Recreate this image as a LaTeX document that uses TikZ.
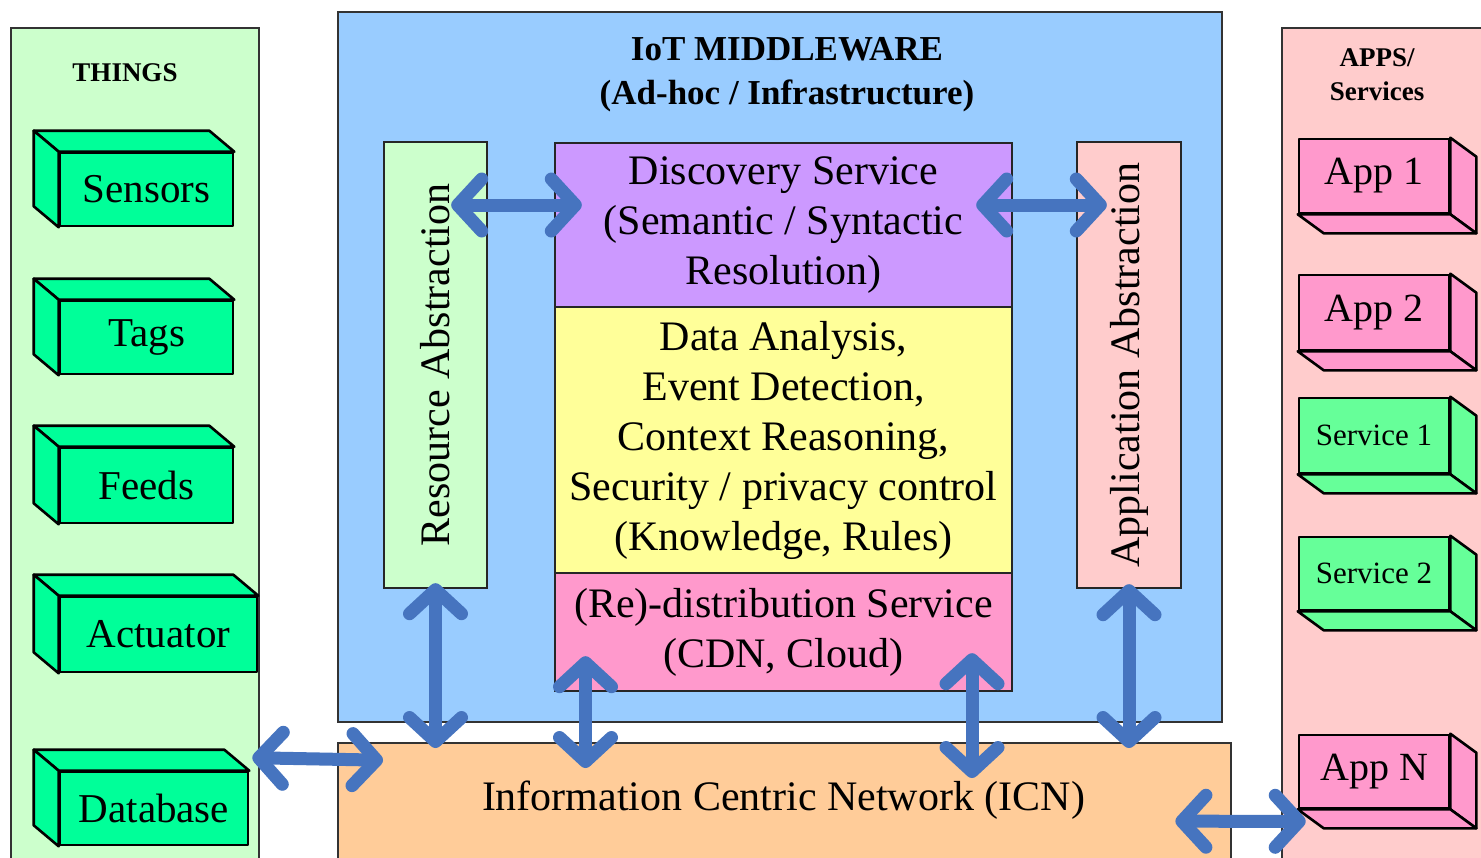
\documentclass[tikz,border=0pt]{standalone}
\usepackage{fontspec}
\setmainfont{LiberationSerif}[Extension=.ttf, UprightFont=*-Regular, BoldFont=*-Bold, ItalicFont=*-Italic, BoldItalicFont=*-BoldItalic]
\usetikzlibrary{arrows.meta,calc}
\definecolor{lightgreen}{HTML}{CCFFCC}
\definecolor{mwblue}{HTML}{99CCFF}
\definecolor{discpurple}{HTML}{CC99FF}
\definecolor{anayellow}{HTML}{FFFF99}
\definecolor{distpink}{HTML}{FF99CC}
\definecolor{lightpink}{HTML}{FFCCCC}
\definecolor{icnorange}{HTML}{FFCC99}
\definecolor{thinggreen}{HTML}{00FF99}
\definecolor{servgreen}{HTML}{66FF99}
\definecolor{arrowblue}{HTML}{4674BF}
\newcommand\thingfaces[2]{%
  \draw[cube, fill=#2] (#1.north west) -- (#1.north east) -- ++(-25,-21) -- ($(#1.north west)+(-25,-21)$) -- cycle;
  \draw[cube, fill=#2] (#1.north west) -- ($(#1.north west)+(-25,-21)$) -- ($(#1.south west)+(-25,-21)$) -- (#1.south west) -- cycle;}
\newcommand\appfaces[2]{%
  \draw[cube, fill=#2] (#1.north east) -- ++(26,19) -- ($(#1.south east)+(26,19)$) -- (#1.south east) -- cycle;
  \draw[cube, fill=#2] (#1.south west) -- (#1.south east) -- ++(26,19) -- ($(#1.south west)+(26,19)$) -- cycle;}
\begin{document}
\begin{tikzpicture}[x=0.5pt,y=-0.5pt,
  bw/.style={minimum width=#1*0.5pt},
  bh/.style={minimum height=#1*0.5pt},
  panel/.style={draw=black!80, line width=1pt, inner sep=0pt, anchor=north west},
  inbox/.style={draw=black!85, line width=1.2pt, inner sep=0pt, align=center,
    font=\fontsize{21}{25}\selectfont},
  cube/.style={draw=black, line width=1.3pt, line join=round},
  thing/.style={cube, fill=thinggreen, inner sep=0pt, bw=173, bh=73,
    font=\fontsize{20.5}{24}\selectfont},
  appbox/.style={cube, fill=distpink, inner sep=0pt, bw=150, bh=74,
    font=\fontsize{20}{24}\selectfont},
  servbox/.style={cube, fill=servgreen, inner sep=0pt, bw=150, bh=74,
    font=\fontsize{15.5}{18}\selectfont},
  heading/.style={font=\bfseries\fontsize{13.5}{17}\selectfont, align=center},
  biarrow/.style={draw=arrowblue, line width=6.5pt,
    {Straight Barb[length=12pt,width=26pt,round]}-{Straight Barb[length=12pt,width=26pt,round]}}
]
\clip (0,0) rectangle (1481,857);
\fill[white] (0,0) rectangle (1481,857);

% side panels
\node[panel, fill=lightgreen, bw=248, bh=860] (thingspanel) at (10,27) {};
\node[panel, fill=lightpink, bw=300, bh=860] (appspanel) at (1281,27) {};
\node[heading] (thingstitle) at (125,73) {THINGS};
\node[heading] (appstitle) at (1377,75) {APPS/\\Services};

% middleware
\node[panel, fill=mwblue, line width=1.2pt, bw=884, bh=710] (mw) at (337,11) {};
\node[font=\bfseries\fontsize{17.5}{22}\selectfont, align=center] (mwtitle) at (787,75)
  {IoT MIDDLEWARE\\(Ad-hoc / Infrastructure)};

\node[inbox, fill=lightgreen, bw=103, bh=446] (res) at (435.5,365) {};
\node[rotate=90, font=\fontsize{21}{25}\selectfont] (restext) at (res.center) {Resource Abstraction};
\node[inbox, fill=lightpink, bw=104, bh=446] (appabs) at (1129,365) {};
\node[rotate=90, font=\fontsize{21}{25}\selectfont] (appabstext) at (appabs.center) {Application Abstraction};

\node[inbox, fill=discpurple, bw=457, bh=164] (disc) at (783.5,225)
  {Discovery Service\\(Semantic / Syntactic\\Resolution)};
\node[inbox, fill=anayellow, bw=457, bh=266] (ana) at (783.5,440)
  {Data Analysis,\\Event Detection,\\Context Reasoning,\\Security / privacy control\\(Knowledge, Rules)};
\node[inbox, fill=distpink, bw=457, bh=118] (redist) at (783.5,632)
  {(Re)-distribution Service\\(CDN, Cloud)};

% ICN
\node[panel, fill=icnorange, line width=1.2pt, bw=893, bh=118] (icn) at (337,742) {};
\node[font=\fontsize{21}{25}\selectfont] (icntext) at (783.5,800) {Information Centric Network (ICN)};

% things
\node[thing] (sensors) at (146.5,189.5) {Sensors};
\node[thing] (tags) at (146.5,337.5) {Tags};
\node[thing, bh=75] (feeds) at (146.5,485.5) {Feeds};
\node[thing, bw=197, bh=75] (actuator) at (158.5,634.5) {Actuator};
\node[thing, bw=188] (database) at (154,808.5) {Database};
\thingfaces{sensors}{thinggreen}
\thingfaces{tags}{thinggreen}
\thingfaces{feeds}{thinggreen}
\thingfaces{actuator}{thinggreen}
\thingfaces{database}{thinggreen}

% apps
\node[appbox] (app1) at (1374,176) {App 1};
\node[appbox, bh=75] (app2) at (1374,312.5) {App 2};
\node[servbox, bh=75] (serv1) at (1374,435.5) {Service 1};
\node[servbox, bh=73] (serv2) at (1374,573.5) {Service 2};
\node[appbox, bh=73] (appn) at (1374,771.5) {App N};
\appfaces{app1}{distpink}
\appfaces{app2}{distpink}
\appfaces{serv1}{servgreen}
\appfaces{serv2}{servgreen}
\appfaces{appn}{distpink}

% arrows
\draw[biarrow] ($(res.east)+(-37,-160)$) -- ($(disc.west)+(28,-20)$);
\draw[biarrow] ($(disc.east)+(-37,-20)$) -- ($(appabs.west)+(31,-160)$);
\draw[biarrow] ($(res.south)+(0,-6)$) -- ($(res.south |- icn.north)+(0,6)$);
\draw[biarrow] ($(redist.south)+(-198,-36)$) -- ($(redist.south |- icn.north)+(-198,26)$);
\draw[biarrow] ($(redist.south)+(188.5,-39)$) -- ($(redist.south |- icn.north)+(188.5,36)$);
\draw[biarrow] ($(appabs.south)+(0,-5)$) -- ($(appabs.south |- icn.north)+(0,6)$);
\draw[biarrow] ($(database.north east)+(3,-13)$) -- ($(icn.west)+(46,-42)$);
\draw[biarrow] ($(icn.east)+(-57,19)$) -- ($(appn.south west)+(8,12)$);
\end{tikzpicture}
\end{document}
